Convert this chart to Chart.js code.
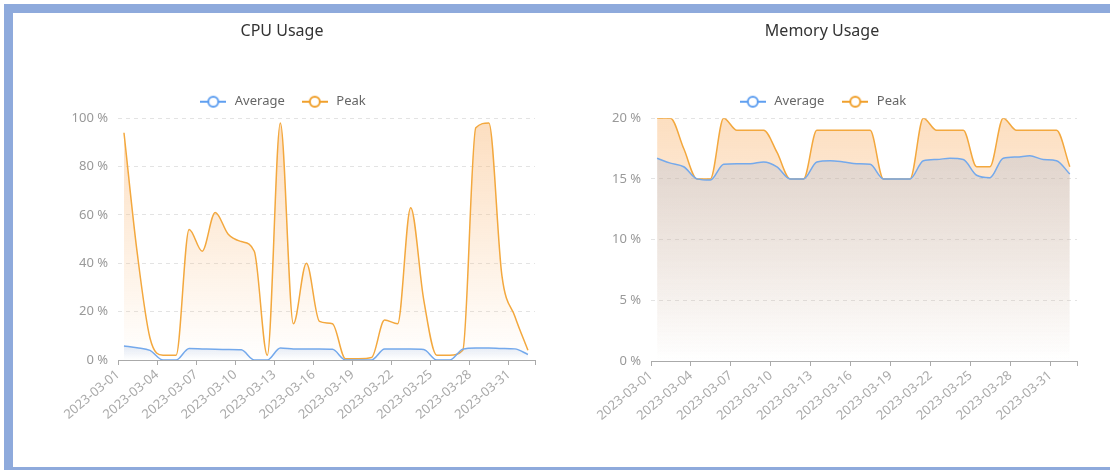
<!DOCTYPE html>
<html>
<head>
<meta charset="utf-8">
<script src="https://cdn.jsdelivr.net/npm/chart.js@4.4.0/dist/chart.umd.min.js"></script>
<style>
  html, body { margin: 0; padding: 0; background: #fff; }
  body { width: 1110px; height: 470px; overflow: hidden; position: relative; }
  .frame {
    position: absolute; left: 4px; top: 4px; width: 1200px; height: 466px; box-sizing: border-box;
    border-top: 9px solid #8eaadc; border-left: 9px solid #8eaadc; border-bottom: 3px solid #8eaadc;
  }
  .panel { position: absolute; top: 13px; width: 540px; height: 440px; }
  #cpuBox { left: 12px; }
  #memBox { left: 552px; }
</style>
</head>
<body>
<div class="frame"></div>
<div class="panel" id="cpuBox"><canvas id="cpuChart" width="540" height="440"></canvas></div>
<div class="panel" id="memBox"><canvas id="memChart" width="540" height="440"></canvas></div>
<script>
// one sample per day, taken late morning
const days = [
  '2023-03-01', '2023-03-02', '2023-03-03', '2023-03-04', '2023-03-05', '2023-03-06', '2023-03-07', '2023-03-08',
  '2023-03-09', '2023-03-10', '2023-03-11', '2023-03-12', '2023-03-13', '2023-03-14', '2023-03-15', '2023-03-16',
  '2023-03-17', '2023-03-18', '2023-03-19', '2023-03-20', '2023-03-21', '2023-03-22', '2023-03-23', '2023-03-24',
  '2023-03-25', '2023-03-26', '2023-03-27', '2023-03-28', '2023-03-29', '2023-03-30', '2023-03-31', '2023-04-01'
];
const sampleHour = 11;

const tickDates = [
  '2023-03-01', '2023-03-04', '2023-03-07', '2023-03-10', '2023-03-13', '2023-03-16',
  '2023-03-19', '2023-03-22', '2023-03-25', '2023-03-28', '2023-03-31'
];
const axisStart = '2023-03-01';
const axisEnd = '2023-04-02';

const cpuAverage = [5.8, 5.1, 4.0, 0, 0, 4.8, 4.6, 4.4, 4.3, 4.2, 0, 0, 5.0, 4.6, 4.5, 4.5,
  4.4, 0, 0, 0, 4.5, 4.5, 4.5, 4.3, 0, 0, 4.5, 5.0, 5.0, 4.8, 4.6, 2.3];
const cpuPeak = [94, 45, 9, 2, 2, 54, 45, 61, 52, 49, 45, 2, 98, 15, 40, 16,
  15, 0.5, 0.5, 1, 16.5, 15, 63, 25, 2, 2, 4, 96, 98, 35, 18, 4];

const memoryAverage = [16.7, 16.3, 16.0, 15.0, 14.9, 16.2, 16.25, 16.25, 16.4, 16.0, 15.0, 15.0, 16.4, 16.5, 16.4, 16.25,
  16.2, 15.0, 15.0, 15.0, 16.5, 16.6, 16.7, 16.6, 15.3, 15.1, 16.7, 16.8, 16.9, 16.6, 16.5, 15.4];
const memoryPeak = [20, 20, 17.5, 15, 15, 20, 19, 19, 19, 17.2, 15, 15, 19, 19, 19, 19,
  19, 15, 15, 15, 20, 19, 19, 19, 16, 16, 20, 19, 19, 19, 19, 16];

const DAY = 86400000;
const dayOffset = (s) => (Date.parse(s + 'T00:00:00Z') - Date.parse(axisStart + 'T00:00:00Z')) / DAY;
const points = (values) => values.map((v, i) => ({ x: dayOffset(days[i]) + sampleHour / 24, y: v }));

const AVG_COLOR = '#74a9ec';
const PEAK_COLOR = '#f3a83e';

Chart.defaults.font.family = '"Noto Sans", sans-serif';

function legendIcon(color) {
  const c = document.createElement('canvas');
  c.width = 26;
  c.height = 14;
  const g = c.getContext('2d');
  g.strokeStyle = color;
  g.lineWidth = 2;
  g.beginPath();
  g.moveTo(0, 7);
  g.lineTo(26, 7);
  g.stroke();
  g.beginPath();
  g.arc(13, 7, 5, 0, Math.PI * 2);
  g.fillStyle = '#fff';
  g.fill();
  g.stroke();
  return c;
}

// gradient from the series' highest value down to the x axis
function areaFill(rgb, alpha) {
  return (context) => {
    const chart = context.chart;
    const area = chart.chartArea;
    const yScale = chart.scales.y;
    if (!area || !yScale) return 'rgba(' + rgb + ',0.2)';
    const values = chart.data.datasets[context.datasetIndex].data.map(p => p.y);
    const top = yScale.getPixelForValue(Math.max(...values));
    const grad = chart.ctx.createLinearGradient(0, top, 0, area.bottom);
    grad.addColorStop(0, 'rgba(' + rgb + ',' + alpha + ')');
    grad.addColorStop(1, 'rgba(' + rgb + ',0)');
    return grad;
  };
}

function makeChart(canvasId, titleText, avg, peak, yMax, yStep, yWidth, side, shift) {
  const ctx = document.getElementById(canvasId).getContext('2d');
  return new Chart(ctx, {
    type: 'line',
    data: {
      datasets: [
        {
          label: 'Average',
          data: points(avg),
          borderColor: AVG_COLOR,
          borderWidth: 1.5,
          backgroundColor: areaFill('125,160,215', 0.22),
          fill: 'origin',
          pointRadius: 0,
          pointStyle: legendIcon('#5f9ff0'),
          cubicInterpolationMode: 'monotone'
        },
        {
          label: 'Peak',
          data: points(peak),
          borderColor: PEAK_COLOR,
          borderWidth: 1.5,
          backgroundColor: areaFill('250,190,130', 0.5),
          fill: 'origin',
          pointRadius: 0,
          pointStyle: legendIcon('#f0a02c'),
          cubicInterpolationMode: 'monotone'
        }
      ]
    },
    options: {
      responsive: false,
      animation: false,
      layout: { padding: { left: side, right: side, top: 0, bottom: 14 } },
      plugins: {
        title: {
          display: true,
          text: titleText,
          color: '#333',
          font: { size: 16, weight: 'normal' },
          padding: { top: 9, bottom: 40 - shift }
        },
        legend: {
          labels: {
            usePointStyle: true,
            pointStyleWidth: 30,
            color: '#666',
            font: { size: 13 },
            padding: 14 + shift
          }
        },
        tooltip: { enabled: false }
      },
      scales: {
        x: {
          type: 'linear',
          min: 0,
          max: dayOffset(axisEnd),
          afterBuildTicks: (scale) => {
            scale.ticks = tickDates.concat([axisEnd]).map(d => ({ value: dayOffset(d) }));
          },
          afterFit: (scale) => { scale.height = 80 - shift; },
          ticks: {
            autoSkip: false,
            minRotation: 40,
            maxRotation: 40,
            color: '#aaa',
            font: { size: 13 },
            padding: 2,
            callback: (value) => {
              const d = tickDates.find(t => dayOffset(t) === value);
              return d || '';
            }
          },
          grid: { drawOnChartArea: false, drawTicks: true, tickLength: 5, tickColor: '#aaa' },
          border: { display: true, color: '#aaa' }
        },
        y: {
          min: 0,
          max: yMax,
          afterFit: (scale) => { scale.width = yWidth; },
          ticks: {
            stepSize: yStep,
            color: '#999',
            font: { size: 13 },
            padding: 10,
            callback: (v) => v + ' %'
          },
          grid: { color: '#e3e3e3', drawTicks: false },
          border: { display: false, dash: [4, 4] }
        }
      }
    }
  });
}

makeChart('cpuChart', 'CPU Usage', cpuAverage, cpuPeak, 100, 20, 89, 17, 1);
makeChart('memChart', 'Memory Usage', memoryAverage, memoryPeak, 20, 5, 84, 15, 2);
</script>
</body>
</html>
